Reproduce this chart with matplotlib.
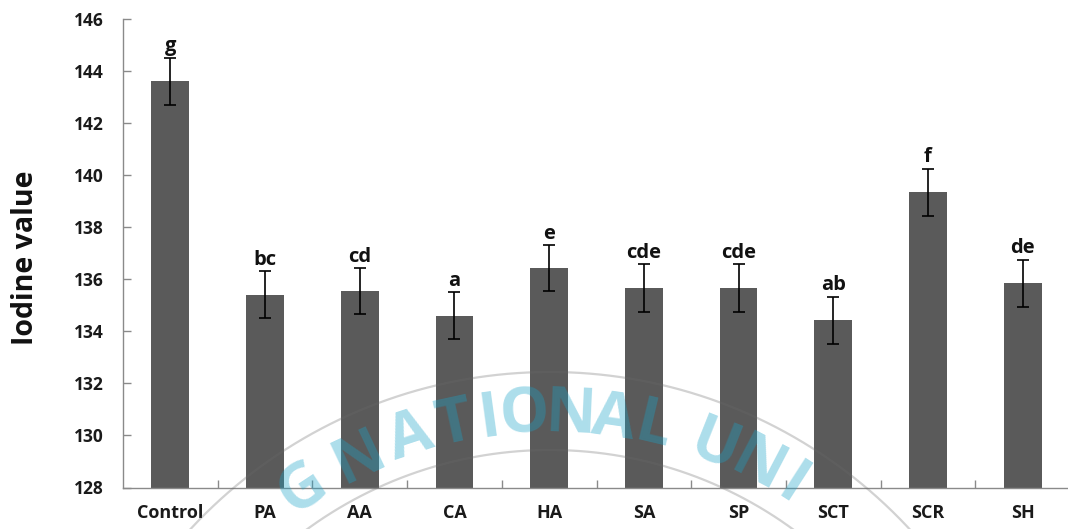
import numpy as np
import matplotlib
matplotlib.use("Agg")
import matplotlib.pyplot as plt

categories = ["Control", "PA", "AA", "CA", "HA", "SA", "SP", "SCT", "SCR", "SH"]
values = [143.6, 135.4, 135.55, 134.6, 136.42, 135.65, 135.65, 134.43, 139.35, 135.85]
errors = [0.9, 0.9, 0.88, 0.9, 0.88, 0.92, 0.92, 0.9, 0.9, 0.9]
letters = ["g", "bc", "cd", "a", "e", "cde", "cde", "ab", "f", "de"]
yticks = [128, 130, 132, 134, 136, 138, 140, 142, 144, 146]

plt.rcParams['font.family'] = ['Open Sans', 'DejaVu Sans']

W, H = 1068, 529
fig = plt.figure(figsize=(W / 100, H / 100), dpi=100)
ax_l, ax_b = 123 / W, 1 - 487.5 / H
ax_w, ax_h = 947 / W, (487.5 - 19) / H
ax = fig.add_axes([ax_l, ax_b, ax_w, ax_h])

x = np.arange(len(categories))
ax.bar(x, [v - 128 for v in values], bottom=128, width=0.40, color="#5a5a5a", zorder=2)
ax.errorbar(x, values, yerr=errors, fmt="none", ecolor="black", elinewidth=1.2,
            capsize=4, capthick=1.2, zorder=3)
for xi, v, e, t in zip(x, values, errors, letters):
    ax.text(xi, v + e + 0.06, t, ha="center", va="bottom", fontsize=14.5,
            fontweight="bold", color="#111111", zorder=4)

ax.set_xlim(-0.5, len(categories) - 0.5)
ax.set_ylim(128, 146)
ax.set_yticks(yticks)
ax.set_yticklabels([str(t) for t in yticks])
ax.set_xticks(x)
ax.set_xticklabels(categories)
ax.set_xticks(np.arange(0.5, len(categories) - 0.5, 1.0), minor=True)

axis_gray = "#8a8a8a"
for s in ["top", "right"]:
    ax.spines[s].set_visible(False)
for s in ["left", "bottom"]:
    ax.spines[s].set_color(axis_gray)
    ax.spines[s].set_linewidth(1.0)

ax.tick_params(axis="x", which="major", length=0, pad=12, labelsize=13,
               labelcolor="#1a1a1a")
ax.tick_params(axis="x", which="minor", direction="in", length=6, color=axis_gray, width=1)
ax.tick_params(axis="y", direction="in", length=6, color=axis_gray, width=1, pad=14,
               labelsize=12.5, labelcolor="#1a1a1a")
for lab in ax.get_xticklabels() + ax.get_yticklabels():
    lab.set_fontweight("bold")

ax.set_ylabel("Iodine value", fontsize=20.5, fontweight="bold", color="#111111")
ax.yaxis.set_label_coords(-0.088, 0.49)

# faint watermark overlay (decorative)
ov = fig.add_axes([0, 0, 1, 1], zorder=10)
ov.set_xlim(0, W)
ov.set_ylim(H, 0)
ov.axis("off")
ov.patch.set_alpha(0)
cx, cy = 550, 862
th = np.linspace(0, 2 * np.pi, 600)
for r in (490, 412):
    ov.plot(cx + r * np.cos(th), cy - r * np.sin(th), color="#6a6a6a", alpha=0.3, lw=1.6)
wm_letters = ["G", "N", "A", "T", "I", "O", "N", "A", "L", "U", "N", "I"]
wm_angles = [123.5, 115.3, 108.2, 102.3, 97.8, 93.3, 87.4, 81.8, 76.6, 68.3, 62.4, 57.2]
for ch, ang in zip(wm_letters, wm_angles):
    a = np.deg2rad(ang)
    r = 447
    ov.text(cx + r * np.cos(a), cy - r * np.sin(a), ch, rotation=ang - 90,
            ha="center", va="center", fontsize=45, fontweight="bold",
            color="#1aa3c8", alpha=0.36, rotation_mode="anchor")

fig.savefig("out.png", dpi=100)
